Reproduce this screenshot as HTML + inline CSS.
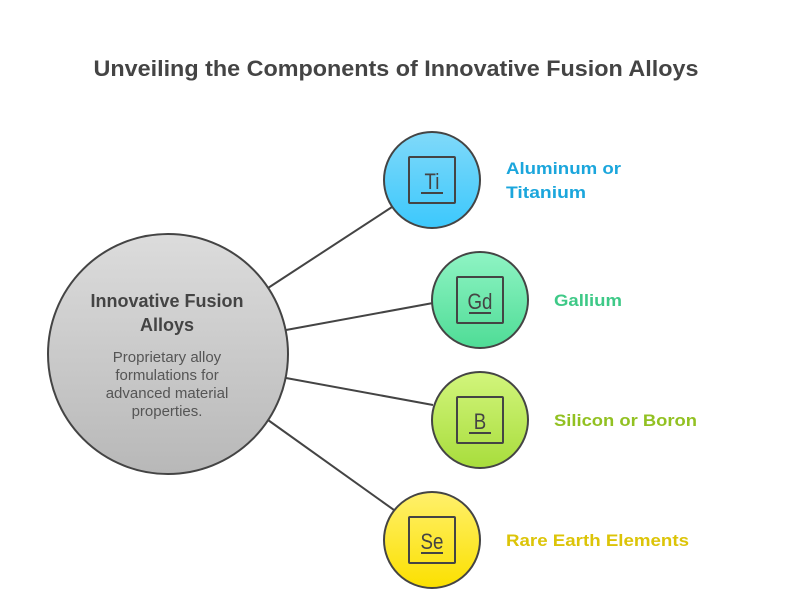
<!DOCTYPE html>
<html><head><meta charset="utf-8"><style>
html,body{margin:0;padding:0;background:#fff;width:792px;height:614px;overflow:hidden}
svg{display:block}
text{font-family:"Liberation Sans",sans-serif}
</style></head><body>
<svg width="792" height="614" viewBox="0 0 792 614" xmlns="http://www.w3.org/2000/svg">
<defs>
<linearGradient id="gg" x1="0" y1="0" x2="0" y2="1"><stop offset="0" stop-color="#dcdcdc"/><stop offset="1" stop-color="#b8b8b8"/></linearGradient>
<linearGradient id="gb" x1="0" y1="0" x2="0" y2="1"><stop offset="0" stop-color="#80d9f9"/><stop offset="1" stop-color="#3cc8fc"/></linearGradient>
<linearGradient id="gn" x1="0" y1="0" x2="0" y2="1"><stop offset="0" stop-color="#8ff4c4"/><stop offset="1" stop-color="#4fdc96"/></linearGradient>
<linearGradient id="gl" x1="0" y1="0" x2="0" y2="1"><stop offset="0" stop-color="#d2f57c"/><stop offset="1" stop-color="#a8dd3c"/></linearGradient>
<linearGradient id="gy" x1="0" y1="0" x2="0" y2="1"><stop offset="0" stop-color="#fff06c"/><stop offset="1" stop-color="#fbe000"/></linearGradient>
</defs>
<text x="396" y="76" text-anchor="middle" font-size="22" font-weight="bold" fill="#444" textLength="605" lengthAdjust="spacingAndGlyphs">Unveiling the Components of Innovative Fusion Alloys</text>
<g stroke="#444" stroke-width="2">
<line x1="268" y1="288" x2="392" y2="207"/>
<line x1="286" y1="330" x2="433" y2="303"/>
<line x1="286" y1="378" x2="433" y2="405"/>
<line x1="268" y1="420" x2="394" y2="510"/>
</g>
<circle cx="168" cy="354" r="120" fill="url(#gg)" stroke="#444" stroke-width="2"/>
<text x="167" y="307" text-anchor="middle" font-size="18" font-weight="bold" fill="#444">Innovative Fusion</text>
<text x="167" y="331" text-anchor="middle" font-size="18" font-weight="bold" fill="#444">Alloys</text>
<g font-size="15" fill="#555" text-anchor="middle">
<text x="167" y="362">Proprietary alloy</text>
<text x="167" y="380">formulations for</text>
<text x="167" y="398">advanced material</text>
<text x="167" y="416">properties.</text>
</g>
<g stroke="#444" stroke-width="2">
<circle cx="432" cy="180" r="48" fill="url(#gb)"/>
<circle cx="480" cy="300" r="48" fill="url(#gn)"/>
<circle cx="480" cy="420" r="48" fill="url(#gl)"/>
<circle cx="432" cy="540" r="48" fill="url(#gy)"/>
</g>
<g fill="none" stroke="#444" stroke-width="2">
<rect x="409" y="157" width="46" height="46" rx="1"/>
<rect x="457" y="277" width="46" height="46" rx="1"/>
<rect x="457" y="397" width="46" height="46" rx="1"/>
<rect x="409" y="517" width="46" height="46" rx="1"/>
<line x1="421" y1="193" x2="443" y2="193"/>
<line x1="469" y1="313" x2="491" y2="313"/>
<line x1="469" y1="433" x2="491" y2="433"/>
<line x1="421" y1="553" x2="443" y2="553"/>
</g>
<g font-size="22" fill="#444" text-anchor="middle" font-family="'DejaVu Sans',sans-serif">
<text x="432" y="189" transform="translate(432 0) scale(0.85 1) translate(-432 0)">Ti</text>
<text x="480" y="309" transform="translate(480 0) scale(0.85 1) translate(-480 0)">Gd</text>
<text x="480" y="429" transform="translate(480 0) scale(0.85 1) translate(-480 0)">B</text>
<text x="432" y="549" transform="translate(432 0) scale(0.85 1) translate(-432 0)">Se</text>
</g>
<g font-size="17" font-weight="bold">
<text x="506" y="174" fill="#1ba6dc" textLength="115" lengthAdjust="spacingAndGlyphs">Aluminum or</text>
<text x="506" y="198" fill="#1ba6dc" textLength="80" lengthAdjust="spacingAndGlyphs">Titanium</text>
<text x="554" y="306" fill="#3ec987" textLength="68" lengthAdjust="spacingAndGlyphs">Gallium</text>
<text x="554" y="426" fill="#92c122" textLength="143" lengthAdjust="spacingAndGlyphs">Silicon or Boron</text>
<text x="506" y="546" fill="#dcc408" textLength="183" lengthAdjust="spacingAndGlyphs">Rare Earth Elements</text>
</g>
</svg>
</body></html>
